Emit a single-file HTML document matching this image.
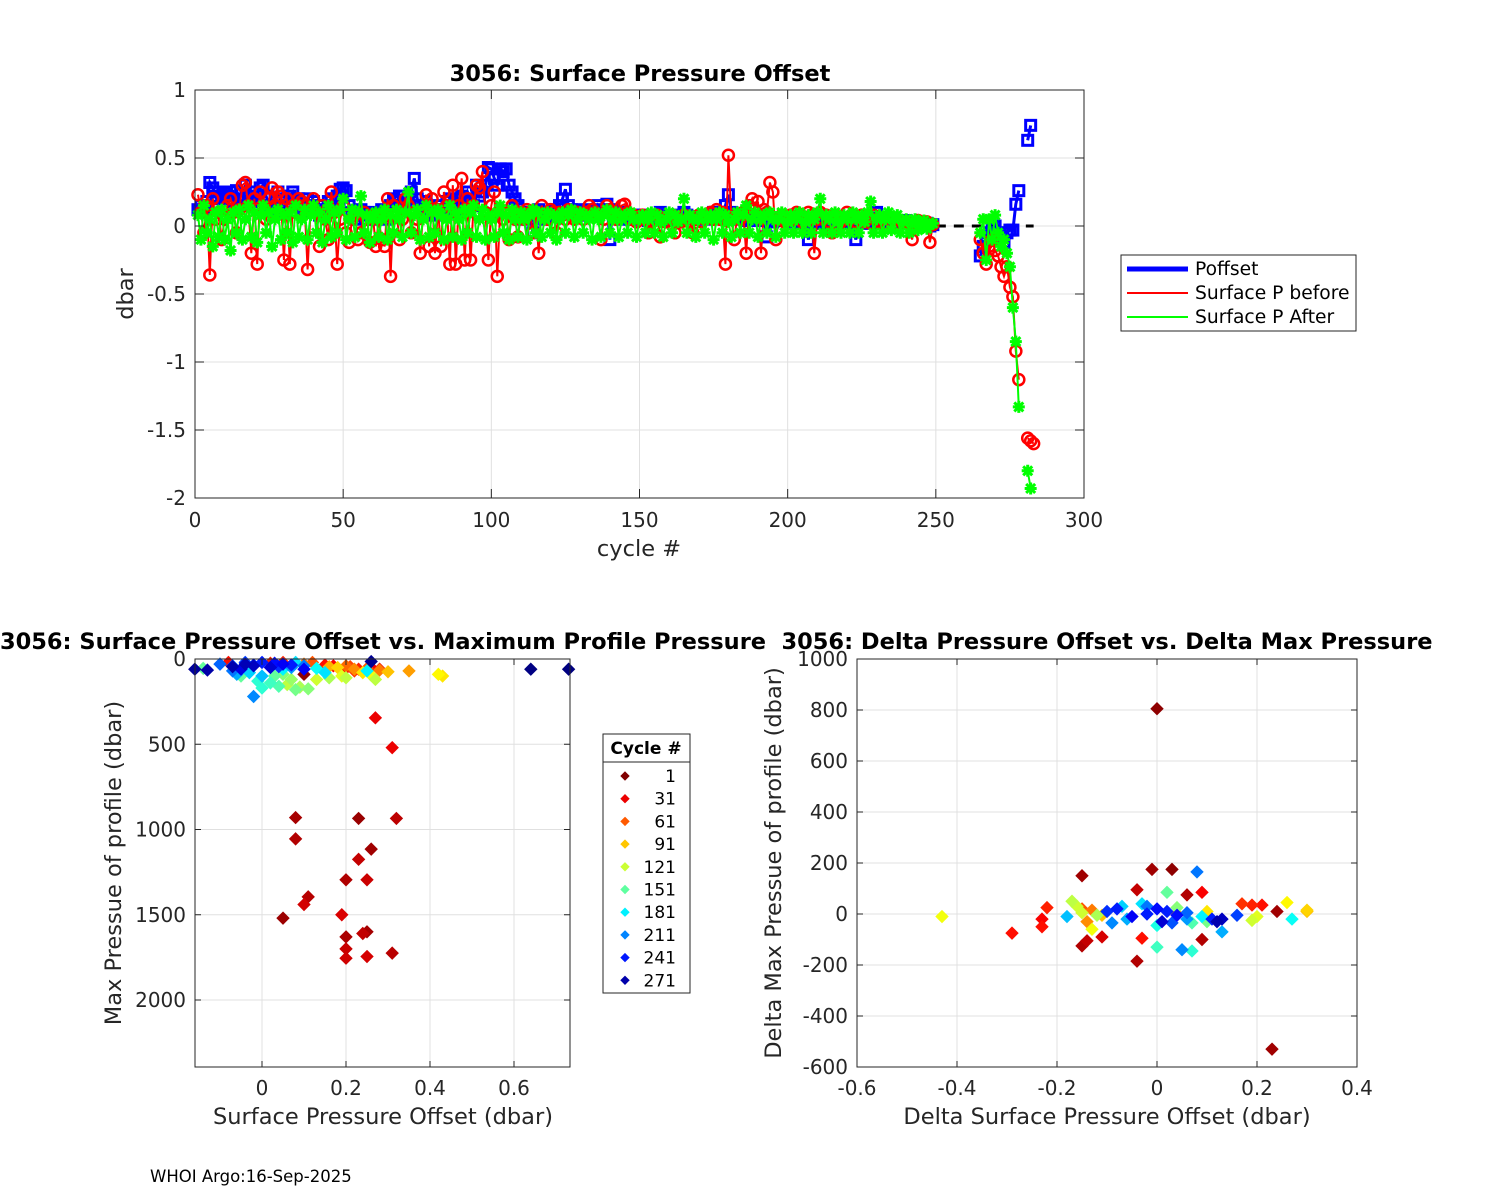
<!DOCTYPE html>
<html><head><meta charset="utf-8"><style>
html,body{margin:0;padding:0;background:#fff;}
svg{display:block;font-family:"DejaVu Sans","Liberation Sans",sans-serif;}
</style></head><body>
<svg id="fig" width="1500" height="1200" viewBox="0 0 1500 1200" xmlns="http://www.w3.org/2000/svg">
<rect x="0" y="0" width="1500" height="1200" fill="#fff"/>
<g id="top"></g>
<g id="bl"></g>
<g id="br"></g>
<text x="150" y="1182" font-size="16.5" fill="#000">WHOI Argo:16-Sep-2025</text>
</svg>
<script>
// ---------- TOP CHART DATA ----------
const headBlue=[.12,.15,.1,.18,.32,.28,.22,.25,.2,.24,.22,.25,.18,.26,.2,.15,.3,.22,.18,.25,.2,.28,.3,.22,.15,.12,.2,.25,.18,.1,.15,.22,.25,.18,.2,.12,.1,.2,.15,.18,.12,.08,.15,.1,.18,.2,.12,.22,.27,.28,.26,.15,.1,.05,.08,.12,.1,.05,.08,.1,.05,.08,.12,.1,.05,.15,.2,.18,.22,.12,.15,.2,.25,.35,.2,.15,.1,.18,.12,.1,.08,.15,.12,.1,.18,.2,.15,.1,.2,.22,.18,.25,.2,.15,.3,.22,.25,.3,.43,.42,.35,.3,.42,.4,.42,.3,.25,.2,.15,.1,.05,.08,.1,-.05,.08,.12,.1,.05,.08,.1,.12,.1,.15,.2,.27,.15,.12,.1,.12,.08,.1,.08,.12,.1,.08,.15,.12,.1,.16,-.1,.12,.1,.08,.05,.1,.08,.05,.08,.06,.05,.08,.05,.04,.06,.05,.08,.1,.06,.05,.04,.06,.08,.05,.06,.1,.08,.05,.07,.06,.05,.06,.05,.08,.07,.1,.06,.08,.1,.15,.23,.1,.08,.05,.06,.08,.04,.05,.06,.05,.04,.05,.06,-.08,.05,.03,.04,.06,.05,.04,.03,.04,.05,.03,.02,.04,.05,-.1,.04,.02,.03,.04,.02,.03,.04,.05,.03,.02,.04,.06,.03,.02,.04,-.1,.05,.02,.03,.04,.02,.06,.1,.04,.02,.03,.05,.02,.03,.04,.02,.03,.04,.02,.03,.01,.02,.03,.01,.02,0,.01];
const headRed=[.23,.1,-.05,.15,-.36,.2,.05,.1,-.1,.05,.15,.2,.1,-.05,.12,.3,.32,.15,-.2,.2,-.28,.25,.1,.05,.2,.28,.15,.25,.22,-.25,.2,-.28,.15,.1,.2,.18,.15,-.32,.12,.2,.1,-.15,.15,.05,-.1,.25,.1,-.28,.05,.15,-.05,-.12,.05,.08,-.1,-.05,.1,.05,-.12,.08,-.15,.05,-.1,-.15,.2,-.37,.15,.1,-.1,.05,.2,.15,-.05,.1,.05,-.2,.1,.23,-.15,.2,-.2,.12,-.15,.25,.15,-.28,.3,-.28,.15,.35,-.25,.2,-.25,.15,.3,.28,.4,.1,-.25,.15,.25,-.37,.12,.05,.1,-.1,.15,.05,-.08,.1,.05,.12,.1,-.05,.1,-.2,.15,.08,.05,.12,.1,-.05,.1,.08,.05,.12,.1,.05,.1,.08,.05,.1,.15,.12,.1,.08,-.1,.05,.15,.12,.1,.05,.08,.15,.16,.1,.05,.08,.03,.05,.08,.05,-.05,.03,.05,.08,-.08,.05,.03,.05,.08,-.05,.05,.03,.08,.05,.03,-.05,.05,.08,.03,.05,.08,.1,.05,.12,.05,.1,-.28,.52,.05,-.1,.08,.05,.1,-.2,.15,.2,.12,.18,-.2,.12,.1,.32,.25,-.1,.05,.08,.03,.05,.08,.05,.1,.08,.03,.05,.1,.08,-.2,.05,.1,.05,.08,.03,-.05,.08,.05,.03,.05,.1,.05,.08,.03,.05,.08,.03,.05,.02,.08,.05,.03,.05,.02,.06,.03,.05,.02,.04,.03,.02,.03,-.1,.02,.04,.01,.02,.03,-.12,.01];
const headGreen=[.08,-.1,.15,-.05,.05,-.15,.1,-.08,.12,-.1,.05,-.18,.1,-.05,.12,-.1,.05,.15,-.08,.1,-.12,.08,.15,-.05,.1,-.15,.05,.12,-.1,.08,-.05,.1,-.12,.15,-.08,.05,.12,-.1,.08,.15,-.05,.1,-.12,.05,.15,-.08,.1,-.05,.12,.2,-.1,.05,.12,-.08,.1,.22,-.05,.08,-.12,.05,.1,-.08,.05,.12,-.1,.08,-.05,.12,.05,-.08,.1,.25,-.05,.08,.12,-.1,.05,.15,-.08,.1,-.05,.12,.08,-.1,.05,.15,-.08,.1,.05,-.1,.12,-.05,.1,.15,-.08,.05,.12,-.1,.08,.05,-.08,.1,.15,-.05,.08,-.1,.12,.05,-.08,.1,.05,-.1,.08,.12,-.05,.1,-.08,.05,.1,-.05,.08,-.1,.05,.1,-.05,.08,.12,-.08,.05,.1,-.05,.08,.05,-.1,.1,.05,-.08,.08,.12,-.05,.05,.1,-.08,.05,.08,-.05,.1,.05,-.08,.05,.08,-.05,.05,.1,-.05,.08,.03,-.08,.05,.1,-.05,.08,.03,.05,.2,-.05,.08,.05,-.08,.05,.1,-.05,.05,.08,-.1,.05,.1,-.05,.08,.03,-.08,.05,.1,-.05,.08,.15,-.05,.05,.1,-.08,.05,.08,-.05,.1,.05,-.08,.05,.1,-.05,.03,.08,-.05,.05,.1,-.05,.03,.08,-.05,.05,.1,.2,-.05,.08,.05,-.05,.1,.03,-.05,.08,.05,-.05,.1,.05,-.05,.08,.03,.1,.18,-.05,.05,.08,-.05,.05,.1,-.03,.05,.08,-.05,.03,.05,-.05,.03,.05,-.03,.02,.04,-.02,.01,.02];
const tailCycles=[265,266,267,268,269,270,271,272,273,274,275,276,277,278,281,282,283];
const tailBlue=[-.22,-.15,-.1,-.05,-.02,0,-.05,-.08,-.12,-.05,-.03,-.03,.16,.26,.63,.74,null];
const tailRed=[-.1,-.2,-.28,-.15,-.1,-.18,-.22,-.3,-.37,-.3,-.45,-.52,-.92,-1.13,-1.56,-1.58,-1.6];
const tailGreen=[-.05,.05,-.25,.05,-.1,.08,-.05,-.15,-.1,-.2,-.3,-.6,-.85,-1.33,-1.8,-1.93,null];
const topYTicks=[1,0.5,0,-0.5,-1,-1.5,-2];
const topYLabels=["1","0.5","0","-0.5","-1","-1.5","-2"];
const topXTicks=[0,50,100,150,200,250,300];

// ---------- BOTTOM-LEFT DATA ----------
const blOffset=[0.08,0.08,0.23,0.32,0.26,0.23,0.2,0.25,0.11,0.1,0.05,0.19,0.25,0.24,0.2,0.2,0.31,0.2,0.25,0.27,0.31,0.43,0.42,0.35,0.3,0.28,0.25,0.22,0.2,0.24,0.26,0.27,0.21,0.12,0.1,0.16,0.18,0.05,0.02,-0.08,0.06,0.09,0.11,0.08,0.04,0.02,0,0.07,0.13,0.16,0.19,0.2,-0.05,0.03,-0.01,0.05,-0.14,-0.02,0.08,0.05,-0.03,0,-0.06,0.07,0.1,0.15,0.25,0.13,-0.1,-0.07,-0.04,-0.02,0,0.03,0.05,-0.05,0.02,-0.07,0.04,0.07,-0.16,-0.13,-0.04,-0.07,0.26,0.64,0.73,-0.02,0.1,0.17,0.2,0.23,0.26,0.22,0.15,0.28,0.1];
const blMaxP=[930,1055,935,935,1115,1175,1295,1295,1395,1440,1520,1500,1600,1610,1630,1700,1725,1755,1745,345,520,100,90,70,75,65,55,60,40,80,95,120,45,20,30,45,50,20,25,20,150,165,175,180,160,140,170,120,120,110,100,110,100,100,130,90,55,220,20,60,80,100,90,50,40,80,70,55,30,40,20,35,20,25,30,60,50,70,45,35,60,65,30,45,15,60,60,40,60,40,55,60,50,70,35,60,90];
const blCycle=[12,15,8,18,10,20,14,22,16,24,9,26,11,19,13,21,17,23,25,31,31,100,105,80,90,70,60,75,65,100,110,125,55,60,70,85,95,50,45,40,125,130,140,145,155,160,165,135,120,130,115,125,150,150,165,140,150,210,185,180,190,195,200,205,215,185,180,175,220,225,230,235,240,245,250,255,260,215,235,240,275,272,268,270,278,282,283,265,250,35,40,45,35,50,40,30,5];
const blYTicks=[0,500,1000,1500,2000];
const blXTicks=[0,0.2,0.4,0.6];

// ---------- BOTTOM-RIGHT DATA ----------
const brDOffset=[0,-0.43,-0.29,-0.23,-0.23,-0.22,-0.15,-0.15,-0.14,-0.11,-0.04,-0.04,-0.03,-0.01,0.03,0.06,0.09,0.09,0.23,0.24,0.21,0.19,0.17,0.26,0.3,0.3,0.27,0.19,0.2,0.08,0,0.07,0.05,0.02,0,-0.17,-0.16,-0.15,-0.13,-0.12,0.13,0.11,0.12,0.13,0.16,0,-0.02,0.02,0.04,-0.05,-0.08,-0.1,-0.07,-0.03,-0.18,-0.06,0.06,-0.09,0.03,0.01,-0.02,0.06,0.09,-0.15,-0.13,0.04,-0.11,0.1,0.04,0.1,-0.14,0.07];
const brDMaxP=[805,-10,-75,-50,-20,25,150,-125,-105,-90,95,-185,-95,175,175,75,85,-100,-530,10,35,35,40,45,10,15,-20,-25,-10,165,-130,-145,-140,85,-45,50,30,5,-60,-5,-70,-20,-30,-20,-5,20,0,10,-5,-10,20,10,30,40,-10,-20,-20,-35,-35,-30,30,5,-10,20,15,0,-5,10,25,-30,-30,-35];
const brCycle=[5,110,40,40,35,45,10,15,20,25,20,15,40,10,5,15,35,15,10,10,40,45,50,105,90,95,175,120,115,215,160,165,210,150,170,125,120,120,110,130,200,240,270,265,230,245,240,240,245,250,240,235,190,185,195,200,205,210,225,260,215,220,180,60,70,80,90,100,140,145,75,155];
const brXTicks=[-0.6,-0.4,-0.2,0,0.2,0.4];
const brYTicks=[-600,-400,-200,0,200,400,600,800,1000];
const legendCycles=[1,31,61,91,121,151,181,211,241,271];

// ---------- helpers ----------
const NS="http://www.w3.org/2000/svg";
const TICK=20, TITLE=22.5, LABEL=22.5;
function mk(tag,attrs,parent){const e=document.createElementNS(NS,tag);for(const k in attrs)e.setAttribute(k,attrs[k]);parent.appendChild(e);return e;}
function jet(v){v=Math.max(0,Math.min(1,v));const r=Math.min(4*v-1.5,-4*v+4.5),g=Math.min(4*v-0.5,-4*v+3.5),b=Math.min(4*v+0.5,-4*v+2.5);const c=x=>Math.round(255*Math.max(0,Math.min(1,x)));return `rgb(${c(r)},${c(g)},${c(b)})`;}
function cycColor(c){return jet(1-(c-1)/282);}
function fmt(v){return (Math.round(v*10)/10).toString();}

// ---------- TOP CHART ----------
(function(){
const g=document.getElementById('top');
const L=195,R=1084,T=90,B=498;
const x=c=>L+(c-0)/(300)*(R-L);
const y=v=>T+(1-v)/3*(B-T);
topXTicks.forEach(t=>{const e=mk('line',{x1:x(t),x2:x(t),y1:T,y2:B,stroke:'#e0e0e0','stroke-width':1},g);});
topYTicks.forEach(t=>{const e=mk('line',{x1:L,x2:R,y1:y(t),y2:y(t),stroke:'#e0e0e0','stroke-width':1},g);});
const cyc=[],blue=[],red=[],green=[];
for(let i=0;i<headBlue.length;i++){cyc.push(i+1);blue.push(headBlue[i]);red.push(headRed[i]);green.push(headGreen[i]);}
for(let i=0;i<tailCycles.length;i++){cyc.push(tailCycles[i]);blue.push(tailBlue[i]);red.push(tailRed[i]);green.push(tailGreen[i]);}
function pathOf(vals){let d='',prev=null;for(let i=0;i<cyc.length;i++){const v=vals[i];if(v==null){prev=null;continue;}const brk=prev==null||cyc[i]-prev>1;d+=(brk?'M':'L')+x(cyc[i]).toFixed(1)+' '+y(v).toFixed(1)+' ';prev=cyc[i];}return d;}
const z=mk('line',{x1:x(250),x2:x(283),y1:y(0),y2:y(0),stroke:'#000','stroke-width':3,'stroke-dasharray':'10,8'},g);

const pb=mk('path',{d:pathOf(blue),fill:'none',stroke:'#0000ff','stroke-width':3},g);

for(let i=0;i<cyc.length;i++){if(blue[i]==null)continue;const e=mk('rect',{x:x(cyc[i])-5,y:y(blue[i])-5,width:10,height:10,fill:'none',stroke:'#0000ff','stroke-width':3},g);}
const pr=mk('path',{d:pathOf(red),fill:'none',stroke:'#ff0000','stroke-width':2},g);

for(let i=0;i<cyc.length;i++){if(red[i]==null)continue;const e=mk('circle',{cx:x(cyc[i]),cy:y(red[i]),r:5.5,fill:'none',stroke:'#ff0000','stroke-width':2.5},g);}
const pg=mk('path',{d:pathOf(green),fill:'none',stroke:'#00ff00','stroke-width':2},g);

for(let i=0;i<cyc.length;i++){if(green[i]==null)continue;const cx=x(cyc[i]),cy=y(green[i]);const s=6;const e=mk('path',{d:`M${cx-s} ${cy}L${cx+s} ${cy}M${cx} ${cy-s}L${cx} ${cy+s}M${cx-4.5} ${cy-4.5}L${cx+4.5} ${cy+4.5}M${cx-4.5} ${cy+4.5}L${cx+4.5} ${cy-4.5}`,stroke:'#00ff00','stroke-width':3,fill:'none'},g);}
const bx=mk('rect',{x:L,y:T,width:R-L,height:B-T,fill:'none',stroke:'#262626','stroke-width':1},g);

topXTicks.forEach(t=>{mk('line',{x1:x(t),x2:x(t),y1:B,y2:B-9,stroke:'#262626'},g);mk('line',{x1:x(t),x2:x(t),y1:T,y2:T+9,stroke:'#262626'},g);const e=mk('text',{x:x(t),y:B+29,'text-anchor':'middle','font-size':TICK,fill:'#262626'},g);e.textContent=t;});
topYTicks.forEach((t,i)=>{mk('line',{x1:L,x2:L+9,y1:y(t),y2:y(t),stroke:'#262626'},g);mk('line',{x1:R,x2:R-9,y1:y(t),y2:y(t),stroke:'#262626'},g);const e=mk('text',{x:L-9,y:y(t)+7,'text-anchor':'end','font-size':TICK,fill:'#262626'},g);e.textContent=topYLabels[i];});
let e=mk('text',{x:640,y:81,'text-anchor':'middle','font-size':TITLE,'font-weight':'bold',fill:'#000'},g);e.textContent='3056: Surface Pressure Offset';
e=mk('text',{x:639,y:556,'text-anchor':'middle','font-size':LABEL,fill:'#262626'},g);e.textContent='cycle #';
e=mk('text',{x:0,y:0,'text-anchor':'middle','font-size':LABEL,fill:'#262626',transform:'translate(133,294) rotate(-90)'},g);e.textContent='dbar';
const lg=mk('g',{},g);
mk('rect',{x:1121,y:255,width:235,height:76,fill:'#fff',stroke:'#262626','stroke-width':1},lg);
const items=[['Poffset','#0000ff',5],['Surface P before','#ff0000',2],['Surface P After','#00ff00',2]];
items.forEach((it,i)=>{const yy=269+i*24;mk('line',{x1:1127,x2:1188,y1:yy,y2:yy,stroke:it[1],'stroke-width':it[2]},lg);const t=mk('text',{x:1195,y:yy+6,'font-size':18.7,fill:'#000'},lg);t.textContent=it[0];});
})();

function diamond(g,cx,cy,col,s){const e=mk('path',{d:`M${cx} ${cy-s}L${cx+s} ${cy}L${cx} ${cy+s}L${cx-s} ${cy}Z`,fill:col,stroke:col,'stroke-width':1},g);return e;}

// ---------- BOTTOM-LEFT ----------
(function(){
const g=document.getElementById('bl');
const L=195,R=570,T=659,B=1067;
const x=v=>262+v*420;
const y=v=>T+v*(341/2000);
blXTicks.forEach(t=>{mk('line',{x1:x(t),x2:x(t),y1:T,y2:B,stroke:'#e0e0e0'},g);});
blYTicks.forEach(t=>{mk('line',{x1:L,x2:R,y1:y(t),y2:y(t),stroke:'#e0e0e0'},g);});
const idx=blCycle.map((c,i)=>i).sort((a,b)=>blCycle[a]-blCycle[b]);
idx.forEach(i=>{const e=diamond(g,x(blOffset[i]),y(blMaxP[i]),cycColor(blCycle[i]),6);});
mk('rect',{x:L,y:T,width:R-L,height:B-T,fill:'none',stroke:'#262626'},g);
blXTicks.forEach(t=>{mk('line',{x1:x(t),x2:x(t),y1:B,y2:B-6,stroke:'#262626'},g);mk('line',{x1:x(t),x2:x(t),y1:T,y2:T+6,stroke:'#262626'},g);const e=mk('text',{x:x(t),y:B+28,'text-anchor':'middle','font-size':TICK,fill:'#262626'},g);e.textContent=fmt(t);});
blYTicks.forEach(t=>{mk('line',{x1:L,x2:L+6,y1:y(t),y2:y(t),stroke:'#262626'},g);mk('line',{x1:R,x2:R-6,y1:y(t),y2:y(t),stroke:'#262626'},g);const e=mk('text',{x:L-9,y:y(t)+7,'text-anchor':'end','font-size':TICK,fill:'#262626'},g);e.textContent=t;});
let e=mk('text',{x:383,y:649,'text-anchor':'middle','font-size':TITLE,'font-weight':'bold',fill:'#000'},g);e.textContent='3056: Surface Pressure Offset vs. Maximum Profile Pressure';
e=mk('text',{x:383,y:1124,'text-anchor':'middle','font-size':LABEL,fill:'#262626'},g);e.textContent='Surface Pressure Offset (dbar)';
e=mk('text',{x:0,y:0,'text-anchor':'middle','font-size':LABEL,fill:'#262626',transform:'translate(121,863) rotate(-90)'},g);e.textContent='Max Pressue of profile (dbar)';
const lg=mk('g',{},g);
mk('rect',{x:603,y:734,width:87,height:259,fill:'#fff',stroke:'#262626'},lg);
mk('line',{x1:603,x2:690,y1:762,y2:762,stroke:'#262626'},lg);
let t=mk('text',{x:646,y:754,'text-anchor':'middle','font-size':17,'font-weight':'bold',fill:'#000'},lg);t.textContent='Cycle #';
legendCycles.forEach((c,i)=>{const yy=776+i*22.7;diamond(lg,625,yy,cycColor(c),4);const tt=mk('text',{x:676,y:yy+6,'text-anchor':'end','font-size':17,fill:'#000'},lg);tt.textContent=c;});
})();

// ---------- BOTTOM-RIGHT ----------
(function(){
const g=document.getElementById('br');
const L=857,R=1357,T=659,B=1067;
const x=v=>L+(v+0.6)*500;
const y=v=>T+(1000-v)*(408/1600);
brXTicks.forEach(t=>{mk('line',{x1:x(t),x2:x(t),y1:T,y2:B,stroke:'#e0e0e0'},g);});
brYTicks.forEach(t=>{mk('line',{x1:L,x2:R,y1:y(t),y2:y(t),stroke:'#e0e0e0'},g);});
const idx=brCycle.map((c,i)=>i).sort((a,b)=>brCycle[a]-brCycle[b]);
idx.forEach(i=>{const e=diamond(g,x(brDOffset[i]),y(brDMaxP[i]),cycColor(brCycle[i]),6);});
mk('rect',{x:L,y:T,width:R-L,height:B-T,fill:'none',stroke:'#262626'},g);
brXTicks.forEach(t=>{mk('line',{x1:x(t),x2:x(t),y1:B,y2:B-6,stroke:'#262626'},g);mk('line',{x1:x(t),x2:x(t),y1:T,y2:T+6,stroke:'#262626'},g);const e=mk('text',{x:x(t),y:B+28,'text-anchor':'middle','font-size':TICK,fill:'#262626'},g);e.textContent=fmt(t);});
brYTicks.forEach(t=>{mk('line',{x1:L,x2:L+6,y1:y(t),y2:y(t),stroke:'#262626'},g);mk('line',{x1:R,x2:R-6,y1:y(t),y2:y(t),stroke:'#262626'},g);const e=mk('text',{x:L-9,y:y(t)+7,'text-anchor':'end','font-size':TICK,fill:'#262626'},g);e.textContent=t;});
let e=mk('text',{x:1107,y:649,'text-anchor':'middle','font-size':TITLE,'font-weight':'bold',fill:'#000'},g);e.textContent='3056: Delta Pressure Offset vs. Delta Max Pressure';
e=mk('text',{x:1107,y:1124,'text-anchor':'middle','font-size':LABEL,fill:'#262626'},g);e.textContent='Delta Surface Pressure Offset (dbar)';
e=mk('text',{x:0,y:0,'text-anchor':'middle','font-size':LABEL,fill:'#262626',transform:'translate(781,863) rotate(-90)'},g);e.textContent='Delta Max Pressue of profile (dbar)';
})();
</script>
</body></html>
